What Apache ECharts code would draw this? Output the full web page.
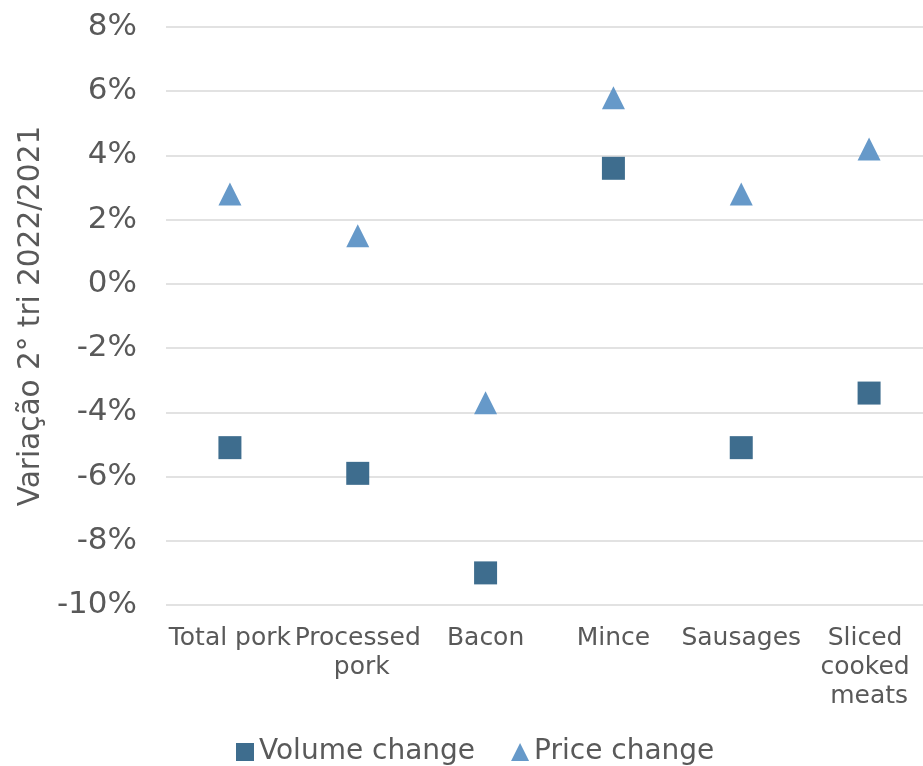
<!DOCTYPE html>
<html>
<head>
<meta charset="utf-8">
<script src="https://cdn.jsdelivr.net/npm/echarts@6/dist/echarts.min.js"></script>
<style>
  html, body { margin: 0; padding: 0; background: #fff; }
  #chart { width: 923px; height: 766px; }
</style>
</head>
<body>
<div id="chart"></div>
<script>
// categories and values (in %)
var categories = ['Total pork', 'Processed pork', 'Bacon', 'Mince', 'Sausages', 'Sliced cooked meats'];
var volumeChange = [-5.1, -5.9, -9.0, 3.6, -5.1, -3.4];
var priceChange = [2.8, 1.5, -3.7, 5.8, 2.8, 4.2];
var seriesNames = ['Volume change', 'Price change'];
var yTitle = 'Variação 2° tri 2022/2021';

var FONT = 'DejaVu Sans';
var txt = '#595959';

var myChart = echarts.init(document.getElementById('chart'));
var option = {
	animation: false,
	textStyle: { fontFamily: FONT },
	// plot area runs a bit past the right edge of the canvas, as in the original
	grid: { left: 166, top: 27, width: 767, bottom: 161, outerBoundsMode: 'none' },
	legend: {
		bottom: -5,
		left: 231,
		itemWidth: 18,
		itemHeight: 18,
		itemGap: 36,
		textStyle: { fontFamily: FONT, fontSize: 28, color: txt },
		data: [
			{ name: seriesNames[0], icon: 'rect' },
			{ name: seriesNames[1], icon: 'triangle' }
		]
	},
	xAxis: {
		type: 'category',
		data: categories,
		axisLine: { show: false },
		axisTick: { show: false },
		axisLabel: {
			interval: 0,
			margin: 19,
			fontSize: 25,
			lineHeight: 29,
			color: txt,
			width: 130,
			overflow: 'break'
		}
	},
	yAxis: {
		type: 'value',
		min: -10,
		max: 8,
		interval: 2,
		name: yTitle,
		nameLocation: 'middle',
		nameGap: 119,
		nameTextStyle: { fontSize: 29.5, color: txt, fontFamily: FONT },
		axisLine: { show: false },
		axisTick: { show: false },
		axisLabel: {
			fontSize: 31,
			color: txt,
			margin: 29,
			formatter: function (v) { return v + '%'; }
		},
		splitLine: { lineStyle: { color: '#d9d9d9', width: 1.5 } }
	},
	series: [
		{
			name: seriesNames[0],
			type: 'scatter',
			symbol: 'rect',
			symbolSize: 23,
			itemStyle: { color: '#3e6d8e', opacity: 1 },
			data: volumeChange
		},
		{
			name: seriesNames[1],
			type: 'scatter',
			symbol: 'triangle',
			symbolSize: 23,
			itemStyle: { color: '#6699c9', opacity: 1 },
			data: priceChange
		}
	]
};
myChart.setOption(option);
</script>
</body>
</html>
